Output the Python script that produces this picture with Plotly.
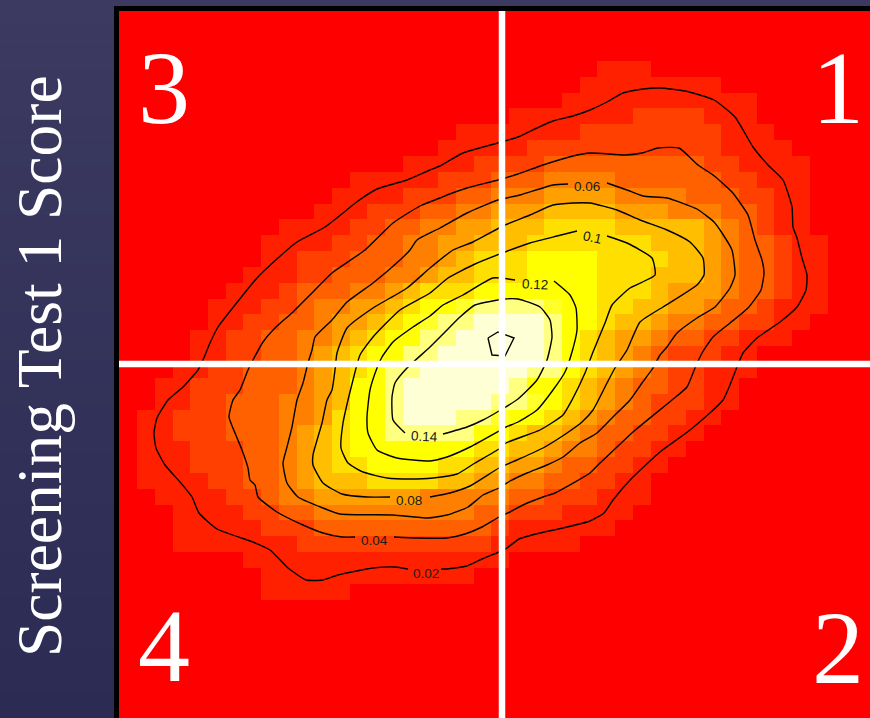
import plotly.graph_objects as go

# Band level of each grid cell, as runs "first column:level" per row (rows not listed stay level 0)
cell_runs = {
    3: "27:1 30:0",
    4: "26:1 34:0",
    5: "25:1 36:0",
    6: "22:1 29:2 33:1 36:0",
    7: "19:1 26:2 34:1 37:0",
    8: "18:1 23:2 34:1 38:0",
    9: "16:1 20:2 24:3 33:2 35:1 39:0",
    10: "13:1 18:2 21:3 24:4 28:3 34:2 36:1 39:0",
    11: "12:1 16:2 19:3 21:4 24:5 28:4 32:3 35:2 37:1 39:0",
    12: "11:1 14:2 17:3 19:4 21:5 24:6 28:5 31:4 34:3 36:2 37:1 39:0",
    13: "9:1 13:2 15:3 17:4 19:5 21:6 24:7 28:6 33:5 34:4 35:3 36:2 37:1 39:0",
    14: "8:1 12:2 14:3 16:4 18:5 20:6 23:7 30:6 33:5 34:4 35:3 37:2 38:1 40:0",
    15: "8:1 10:2 13:3 16:4 18:5 19:6 20:7 23:8 27:7 31:6 33:5 34:4 35:3 37:2 38:1 40:0",
    16: "7:1 10:2 12:3 15:4 17:5 18:6 20:7 23:8 27:7 30:6 33:5 34:4 35:3 37:2 38:1 40:0",
    17: "6:1 9:2 10:3 13:4 15:5 16:6 17:7 20:8 27:7 30:6 31:5 34:4 35:3 37:2 38:1 40:0",
    18: "5:1 8:2 10:3 11:4 13:5 15:6 16:7 17:8 19:9 20:10 24:9 25:8 27:7 29:6 31:5 33:4 34:3 36:2 37:1 40:0",
    19: "5:1 7:2 9:3 11:4 12:5 14:6 15:7 16:8 17:9 18:10 20:11 24:10 25:8 27:7 28:6 30:5 31:4 33:3 35:2 37:1 39:0",
    20: "4:1 6:2 8:3 10:4 12:5 13:6 14:7 15:8 17:10 19:11 24:10 25:8 26:7 27:6 28:5 30:4 31:3 33:2 35:1 38:0",
    21: "4:1 6:2 8:3 10:4 11:5 12:6 13:7 14:8 16:10 18:11 24:10 25:8 26:7 27:6 28:5 29:4 30:3 31:2 34:1 36:0",
    22: "3:1 5:2 7:3 10:4 11:5 12:6 13:7 14:8 15:10 17:11 23:10 25:8 26:7 27:6 28:5 29:4 30:3 31:2 33:1 36:0",
    23: "2:1 4:2 7:3 10:4 11:5 12:6 13:8 15:10 16:11 22:10 23:8 25:7 26:6 27:5 28:4 29:3 31:2 33:1 35:0",
    24: "2:1 4:2 6:3 9:4 11:5 12:6 13:8 15:10 16:11 21:10 23:9 24:8 25:7 26:6 27:5 28:4 29:3 30:2 33:1 35:0",
    25: "1:1 3:2 6:3 9:4 11:5 12:7 13:8 15:10 16:11 19:10 21:9 22:8 24:7 25:6 26:5 27:4 28:3 30:2 32:1 34:0",
    26: "1:1 3:2 6:3 9:4 10:5 11:6 12:7 13:8 15:10 20:8 22:7 23:6 25:5 26:4 27:3 29:2 31:1 33:0",
    27: "1:1 4:2 7:3 9:4 10:5 11:6 12:7 13:8 20:7 22:6 24:5 25:4 27:3 28:2 30:1 32:0",
    28: "1:1 4:2 7:3 9:4 10:5 11:6 12:7 14:8 18:7 20:6 22:5 24:4 25:3 27:2 29:1 31:0",
    29: "1:1 5:2 7:3 9:4 10:5 11:6 14:7 18:6 20:5 22:4 24:3 26:2 28:1 30:0",
    30: "2:1 6:2 8:3 9:4 11:5 17:4 22:3 24:2 27:1 30:0",
    31: "3:1 7:2 9:3 11:4 20:3 22:2 25:1 29:0",
    32: "3:1 8:2 11:3 21:2 22:1 28:0",
    33: "3:1 10:2 21:1 26:0",
    34: "7:1 22:0",
    35: "8:1 20:0",
    36: "8:1 13:0",
}
band_colors = ["#FF0000", "#FF2000", "#FF4000", "#FF6000", "#FF8000", "#FF9F00",
               "#FFBF00", "#FFDF00", "#FFFF00", "#FFFF2A", "#FFFF80", "#FFFFD5"]

# Contour lines (horizontal, vertical position on the plot scale)
contour_002 = [(441,569),(447,569),(467,566),(482,559),(499,552),(507,548),(519,539),(540,533),(563,528),(590,521),(604,513),(613,500),(632,478),(660,452),(690,430),(723,400),(737,367),(743,353),(757,338),(780,322),(797,307),(806,290),(807,275),(802,258),(797,238),(793,227),(792,207),(783,180),(768,165),(753,147),(735,117),(714,100),(685,91),(660,88),(643,89),(623,93),(607,102),(590,110),(573,116),(553,121),(537,128),(518,137),(498,143),(483,147),(463,153),(447,162),(440,166),(430,170),(407,180),(377,189),(358,201),(325,227),(297,242),(278,258),(257,278),(235,305),(218,327),(210,343),(203,360),(198,370),(183,387),(168,400),(157,418),(154,433),(156,448),(165,465),(180,482),(192,497),(199,513),(217,529),(253,542),(270,550),(288,568),(306,580),(323,580),(338,575),(373,568),(395,567),(408,569)]
contour_004 = [(394,537),(417,538),(447,538),(465,534),(482,527),(499,517),(510,512),(523,505),(543,497),(555,493),(590,473),(600,463),(617,447),(633,432),(672,400),(687,387),(695,368),(702,353),(713,337),(730,323),(748,308),(761,290),(764,273),(762,260),(755,240),(748,215),(732,192),(713,175),(698,165),(679,148),(658,148),(642,153),(625,155),(590,153),(573,156),(543,165),(518,174),(498,180),(467,188),(447,195),(440,198),(420,206),(393,223),(365,250),(332,273),(313,292),(293,312),(275,328),(263,342),(253,360),(248,370),(240,390),(233,400),(229,417),(235,433),(242,450),(248,468),(250,480),(255,485),(258,497),(277,512),(303,525),(323,533),(342,537),(355,537)]
contour_006 = [(607,183),(627,190),(643,196),(667,198),(697,209),(714,222),(722,233),(732,250),(735,275),(730,288),(715,307),(697,318),(677,333),(667,347),(660,355),(653,368),(642,383),(630,400),(613,417),(597,433),(580,443),(563,457),(547,465),(527,473),(510,481),(499,488),(483,495),(468,507),(447,515),(428,518),(393,515),(340,514),(323,508),(298,497),(287,483),(283,463),(287,447),(292,427),(297,400),(303,383),(308,363),(312,350),(315,337),(332,320),(347,302),(373,283),(400,260),(410,250),(417,240),(440,228),(467,213),(498,200),(520,195),(553,185),(568,184)]
contour_008 = [(430,497),(450,493),(470,486),(499,468),(517,460),(543,448),(567,433),(582,422),(593,410),(607,383),(615,368),(627,350),(640,322),(663,307),(697,285),(704,275),(703,258),(690,242),(667,230),(640,220),(617,210),(590,203),(573,203),(553,205),(530,215),(505,225),(473,242),(453,250),(430,268),(407,288),(373,308),(347,328),(337,353),(335,370),(332,390),(327,400),(322,423),(313,455),(313,465),(323,483),(342,494),(367,497),(390,497)]
contour_010 = [(607,236),(627,243),(652,258),(655,275),(630,288),(612,305),(605,323),(593,352),(585,373),(572,400),(563,415),(540,430),(506,443),(499,449),(475,463),(457,474),(433,478),(410,479),(387,478),(363,472),(348,463),(341,448),(343,423),(348,400),(353,380),(360,355),(373,337),(400,310),(430,293),(448,278),(475,264),(505,252),(530,243),(557,236),(577,231)]
contour_012 = [(554,281),(570,295),(576,308),(577,330),(572,352),(565,372),(553,390),(537,410),(518,422),(506,427),(499,431),(470,447),(447,457),(430,461),(397,458),(377,450),(368,433),(367,417),(370,390),(377,368),(382,357),(393,342),(413,327),(430,316),(443,305),(463,295),(493,278),(515,280)]
contour_014 = [(443,434),(467,427),(483,420),(499,411),(518,399),(537,380),(547,360),(552,337),(550,320),(540,307),(518,299),(505,299),(475,305),(460,317),(445,332),(430,347),(407,368),(395,383),(392,397),(393,420),(405,433)]
contour_016 = [(488,338),(498,332),(514,338),(505,356),(492,355),(488,338)]
contours = [contour_002, contour_004, contour_006, contour_008, contour_010, contour_012, contour_014]

# Contour labels: text, horizontal, vertical, rotation
label_texts = ["0.02", "0.04", "0.06", "0.08", "0.1", "0.12", "0.14"]
label_x = [426, 374, 587, 409, 592, 535, 424]
label_y = [573, 540, 186, 500, 237, 284, 436]
label_angle = [0, 0, 0, 0, 12, 3, 3]

# Quadrant numbers and cut-offs
quadrant_texts = ["3", "1", "4", "2"]
quadrant_x = [164, 838, 164, 838]
quadrant_y = [87, 87, 645, 647]
cutoff_x = 502
cutoff_y = 364
y_title = "Screening Test 1 Score"

col_origin, col_step, n_cols = 119.6, 17.7, 43
row_origin, row_step, n_rows = 13.4, 15.85, 45

z = []
for j in range(n_rows):
    row = [0] * n_cols
    runs = [tuple(int(v) for v in p.split(":")) for p in cell_runs.get(j, "").split()]
    for k, (start, level) in enumerate(runs):
        end = runs[k + 1][0] if k + 1 < len(runs) else n_cols
        for c in range(start, end):
            row[c] = level
    z.append(row)

n_levels = len(band_colors)
scale = []
for i, col in enumerate(band_colors):
    scale += [[i / n_levels, col], [(i + 1) / n_levels, col]]

fig = go.Figure()
fig.add_trace(go.Heatmap(
    z=[[v + 0.5 for v in r] for r in z], x0=col_origin + col_step / 2, dx=col_step,
    y0=row_origin + row_step / 2, dy=row_step,
    zmin=0, zmax=n_levels, colorscale=scale, showscale=False, hoverinfo="skip"))

for line in contours:
    fig.add_trace(go.Scatter(x=[p[0] for p in line], y=[p[1] for p in line], mode="lines",
                             line=dict(color="#000000", width=1.4, shape="spline", smoothing=0.5),
                             hoverinfo="skip", showlegend=False))
fig.add_trace(go.Scatter(x=[p[0] for p in contour_016], y=[p[1] for p in contour_016], mode="lines",
                         line=dict(color="#000000", width=1.4), hoverinfo="skip", showlegend=False))

shapes = []
# page background: dark navy, slightly lighter towards the top
top, bottom = (60, 58, 96), (43, 43, 84)
n_bands = 30
for i in range(n_bands):
    t = i / (n_bands - 1)
    c = tuple(round(a + (b - a) * t) for a, b in zip(top, bottom))
    shapes.append(dict(type="rect", xref="paper", yref="paper", x0=0, x1=1, y0=1 - i / n_bands,
                       y1=1 - (i + 1) / n_bands, fillcolor=f"rgb{c}", line_width=0, layer="below"))
shapes.append(dict(type="rect", x0=114, x1=870, y0=6, y1=718, fillcolor="#000000", line_width=0, layer="below"))
shapes.append(dict(type="rect", x0=119, x1=870, y0=11, y1=718, fillcolor="#FF0000", line_width=0, layer="below"))
shapes.append(dict(type="line", x0=cutoff_x, x1=cutoff_x, y0=11, y1=718, line=dict(color="#FFFFFF", width=6.5), layer="above"))
shapes.append(dict(type="line", x0=119, x1=870, y0=cutoff_y, y1=cutoff_y, line=dict(color="#FFFFFF", width=6.5), layer="above"))

annotations = []
for t, x, y, a in zip(label_texts, label_x, label_y, label_angle):
    annotations.append(dict(x=x, y=y, text=t, showarrow=False, textangle=a, xanchor="center", yanchor="middle",
                            font=dict(family="Liberation Sans", size=13.5, color="#1a1a1a")))
for t, x, y in zip(quadrant_texts, quadrant_x, quadrant_y):
    annotations.append(dict(x=x, y=y, text=t, showarrow=False, xanchor="center", yanchor="middle",
                            font=dict(family="Liberation Serif", size=104, color="#FFFFFF")))
annotations.append(dict(x=39, y=366, text=y_title, showarrow=False, textangle=-90, xanchor="center", yanchor="middle",
                        font=dict(family="Liberation Serif", size=63.5, color="#FFFFFF")))

fig.update_layout(
    width=870, height=718, margin=dict(l=0, r=0, t=0, b=0), showlegend=False,
    paper_bgcolor="#34345A", plot_bgcolor="rgba(0,0,0,0)", shapes=shapes, annotations=annotations,
    xaxis=dict(range=[0, 870], visible=False, domain=[0, 1], fixedrange=True),
    yaxis=dict(range=[718, 0], visible=False, domain=[0, 1], fixedrange=True),
)
fig.write_html("out.html", config={"displayModeBar": False},
               post_script="document.body.style.margin='0';document.documentElement.style.overflow='hidden';")
